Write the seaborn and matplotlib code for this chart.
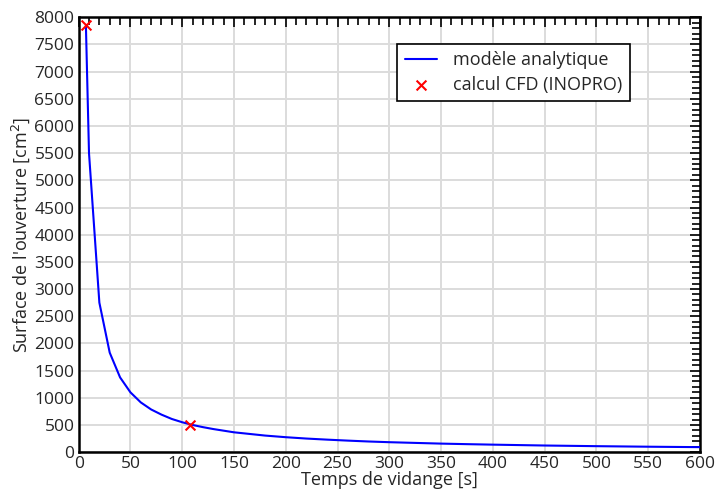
import matplotlib
matplotlib.use("Agg")
import matplotlib.pyplot as plt
import seaborn as sns
import pandas as pd
from matplotlib.ticker import MultipleLocator

# Data
t_model = [7, 10, 20, 30, 40, 50, 60, 70, 80, 90, 100, 110, 120, 130, 140, 150,
           160, 170, 180, 190, 200, 220, 240, 260, 280, 300, 325, 350, 375, 400,
           425, 450, 475, 500, 525, 550, 575, 600]
a_model = [7850, 5500, 2750, 1830, 1375, 1100, 915, 785, 690, 610, 550, 500, 460,
           425, 395, 365, 345, 325, 305, 290, 275, 250, 230, 212, 196, 183, 170,
           157, 147, 138, 130, 122, 116, 110, 105, 100, 96, 92]
t_cfd = [7, 108]
a_cfd = [7850, 500]

label_model = "modèle analytique"
label_cfd = "calcul CFD (INOPRO)"
xlabel = "Temps de vidange [s]"
ylabel = "Surface de l'ouverture [cm$^2$]"

sns.set_style("white")
plt.rcParams['font.family'] = ['Open Sans', 'DejaVu Sans']

df_model = pd.DataFrame({"t": t_model, "a": a_model})
df_cfd = pd.DataFrame({"t": t_cfd, "a": a_cfd})

fig = plt.figure(figsize=(7.15, 4.92), dpi=100)
ax = fig.add_axes([0.110, 0.081, 0.869, 0.884])

sns.lineplot(data=df_model, x="t", y="a", ax=ax, color="#0000ff", linewidth=1.5,
             label=label_model, sort=False, zorder=3)
sns.scatterplot(data=df_cfd, x="t", y="a", ax=ax, color="#ff0000", marker="x",
                s=50, linewidth=1.5, label=label_cfd, zorder=4)

ax.set_xlim(0, 600)
ax.set_ylim(0, 8000)
ax.xaxis.set_major_locator(MultipleLocator(50))
ax.xaxis.set_minor_locator(MultipleLocator(10))
ax.yaxis.set_major_locator(MultipleLocator(500))
ax.yaxis.set_minor_locator(MultipleLocator(100))
ax.grid(True, which="major", color="#dcdcdc", linewidth=1.4, zorder=0)
ax.set_axisbelow(True)
ax.tick_params(which="both", direction="in", top=True, right=True,
               color="black", width=1.2, labelsize=12.5, pad=3)
ax.tick_params(which="major", length=7)
ax.tick_params(which="minor", length=6)
for sp in ax.spines.values():
    sp.set_color("black")
    sp.set_linewidth(1.8)

ax.set_xlabel(xlabel, fontsize=13, labelpad=-1)
ax.set_ylabel(ylabel, fontsize=13, labelpad=2)

leg = ax.legend(loc="upper right", bbox_to_anchor=(0.887, 0.938), fontsize=13,
                frameon=True, fancybox=False, edgecolor="black", framealpha=1,
                borderpad=0.4, borderaxespad=0, handlelength=1.8,
                labelspacing=0.35, handletextpad=0.9)
leg.get_frame().set_linewidth(1.2)

fig.savefig("out.png", dpi=100)
